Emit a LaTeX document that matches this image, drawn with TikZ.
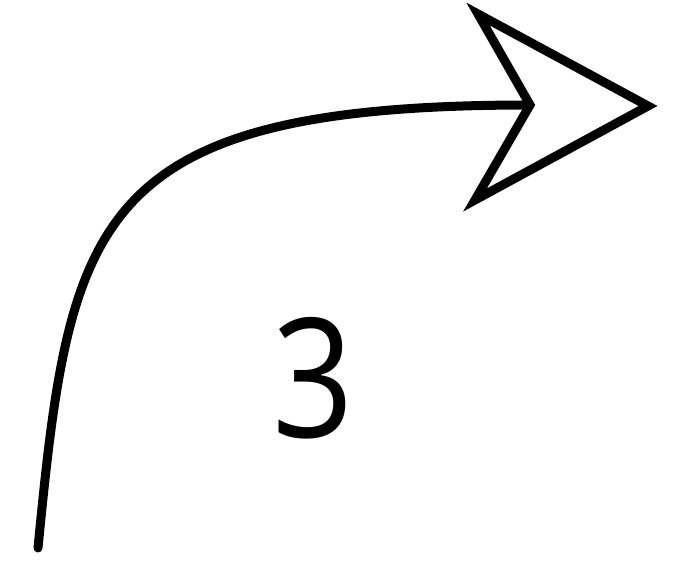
\documentclass[tikz,border=0pt]{standalone}
\usepackage{fontspec}
\setmainfont{Open Sans}
\begin{document}
\begin{tikzpicture}[x=1pt,y=-1pt,
  stroke/.style={line width=9pt,black},
  lbl/.style={font=\fontsize{166}{166}\selectfont,inner sep=0pt,xscale=0.86}]
\useasboundingbox (0,0) rectangle (696,564);
\coordinate (start) at (38,548);
\coordinate (notch) at (530,105);
\draw[stroke,line cap=round] (start) .. controls (70,220) and (90,105) .. (notch);
\draw[stroke,line join=miter,fill=white] (478,14) -- (notch) -- (475,200) -- (648,106) -- cycle;
\node[lbl] (three) at (313.5,378) {3};
\end{tikzpicture}
\end{document}
